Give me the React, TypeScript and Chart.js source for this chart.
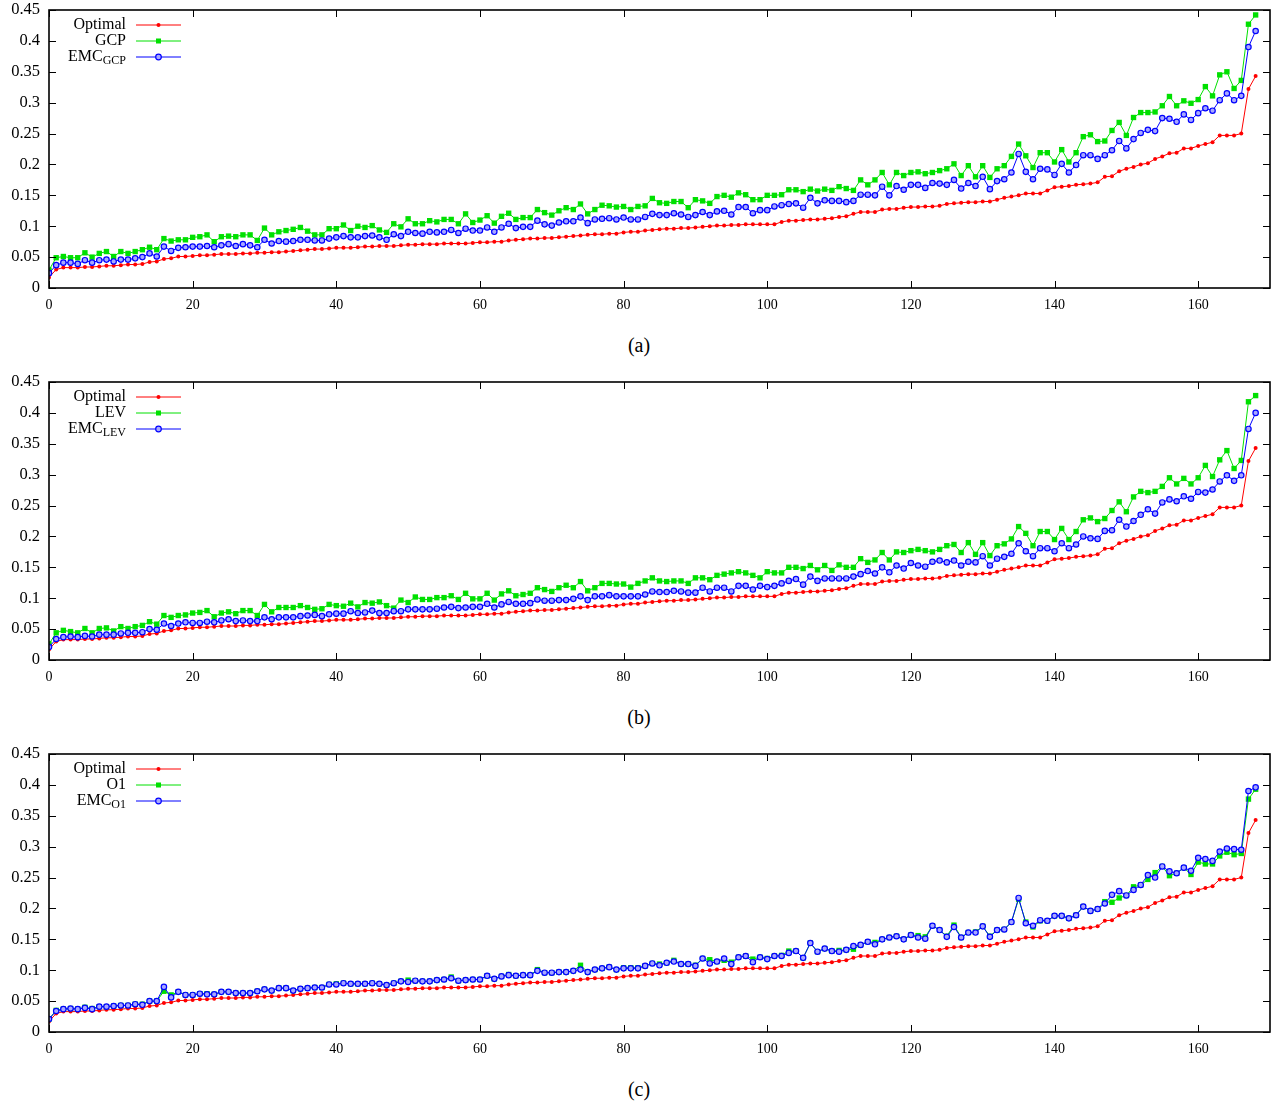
import React, { useEffect, useRef } from "react";
import { Chart, registerables } from "chart.js";

Chart.register(...registerables);

const FONT = "'Liberation Serif', 'Times New Roman', serif";

const X_TICKS = [0, 20, 40, 60, 80, 100, 120, 140, 160];
const Y_TICKS = [0, 0.05, 0.1, 0.15, 0.2, 0.25, 0.3, 0.35, 0.4, 0.45];
const Y_TICK_LABELS = ["0", "0.05", "0.1", "0.15", "0.2", "0.25", "0.3", "0.35", "0.4", "0.45"];
const CAPTIONS = ["(a)", "(b)", "(c)"];

const OPTIMAL = [
  0.017, 0.030, 0.033, 0.033, 0.033, 0.034, 0.034, 0.035, 0.036, 0.036,
  0.037, 0.038, 0.038, 0.039, 0.042, 0.043, 0.047, 0.048, 0.051, 0.051,
  0.052, 0.053, 0.053, 0.054, 0.055, 0.055, 0.055, 0.056, 0.056, 0.057,
  0.057, 0.058, 0.058, 0.059, 0.060, 0.061, 0.062, 0.063, 0.063, 0.064,
  0.065, 0.065, 0.065, 0.066, 0.067, 0.067, 0.068, 0.068, 0.068, 0.069,
  0.070, 0.070, 0.071, 0.071, 0.071, 0.072, 0.072, 0.072, 0.072, 0.073,
  0.074, 0.074, 0.075, 0.075, 0.077, 0.078, 0.079, 0.080, 0.080, 0.081,
  0.081, 0.082, 0.083, 0.084, 0.085, 0.086, 0.087, 0.087, 0.088, 0.088,
  0.090, 0.091, 0.091, 0.093, 0.094, 0.095, 0.096, 0.096, 0.097, 0.097,
  0.098, 0.099, 0.100, 0.101, 0.101, 0.102, 0.102, 0.103, 0.103, 0.103,
  0.103, 0.103, 0.107, 0.109, 0.109, 0.110, 0.111, 0.111, 0.112, 0.113,
  0.115, 0.116, 0.120, 0.123, 0.123, 0.123, 0.127, 0.128, 0.128, 0.130,
  0.131, 0.131, 0.132, 0.132, 0.133, 0.136, 0.137, 0.138, 0.139, 0.139,
  0.140, 0.140, 0.143, 0.146, 0.148, 0.150, 0.153, 0.153, 0.153, 0.158,
  0.163, 0.164, 0.165, 0.167, 0.168, 0.169, 0.171, 0.180, 0.181, 0.189,
  0.193, 0.196, 0.200, 0.202, 0.209, 0.213, 0.218, 0.219, 0.226, 0.226,
  0.230, 0.233, 0.236, 0.247, 0.247, 0.247, 0.250, 0.322, 0.343,
];

const GCP = [
  0.029, 0.049, 0.051, 0.049, 0.049, 0.057, 0.050, 0.056, 0.059, 0.051,
  0.059, 0.056, 0.059, 0.062, 0.066, 0.062, 0.080, 0.076, 0.078, 0.078,
  0.082, 0.083, 0.086, 0.075, 0.083, 0.084, 0.083, 0.086, 0.086, 0.077,
  0.097, 0.086, 0.091, 0.093, 0.095, 0.098, 0.092, 0.086, 0.086, 0.096,
  0.096, 0.102, 0.093, 0.100, 0.098, 0.101, 0.094, 0.090, 0.104, 0.099,
  0.112, 0.104, 0.104, 0.109, 0.107, 0.111, 0.111, 0.104, 0.120, 0.106,
  0.110, 0.117, 0.105, 0.116, 0.121, 0.111, 0.114, 0.114, 0.127, 0.122,
  0.118, 0.125, 0.130, 0.127, 0.136, 0.120, 0.127, 0.134, 0.133, 0.131,
  0.132, 0.127, 0.132, 0.133, 0.145, 0.138, 0.137, 0.140, 0.140, 0.130,
  0.143, 0.141, 0.137, 0.148, 0.150, 0.147, 0.154, 0.151, 0.143, 0.143,
  0.150, 0.150, 0.151, 0.159, 0.159, 0.156, 0.160, 0.157, 0.160, 0.158,
  0.164, 0.161, 0.158, 0.175, 0.167, 0.175, 0.187, 0.167, 0.187, 0.182,
  0.187, 0.188, 0.185, 0.187, 0.190, 0.193, 0.201, 0.182, 0.198, 0.180,
  0.198, 0.179, 0.193, 0.198, 0.213, 0.233, 0.214, 0.195, 0.219, 0.219,
  0.204, 0.224, 0.204, 0.219, 0.245, 0.248, 0.237, 0.238, 0.255, 0.268,
  0.247, 0.276, 0.284, 0.284, 0.285, 0.295, 0.310, 0.295, 0.303, 0.299,
  0.305, 0.326, 0.311, 0.345, 0.350, 0.323, 0.336, 0.427, 0.442,
];

const EMC_GCP = [
  0.024, 0.037, 0.041, 0.041, 0.039, 0.045, 0.041, 0.045, 0.046, 0.043,
  0.046, 0.046, 0.048, 0.050, 0.056, 0.051, 0.067, 0.060, 0.065, 0.066,
  0.067, 0.067, 0.068, 0.066, 0.069, 0.071, 0.068, 0.071, 0.069, 0.066,
  0.078, 0.072, 0.076, 0.075, 0.076, 0.078, 0.078, 0.077, 0.077, 0.080,
  0.082, 0.084, 0.082, 0.082, 0.084, 0.085, 0.082, 0.078, 0.087, 0.084,
  0.091, 0.089, 0.088, 0.091, 0.090, 0.091, 0.094, 0.089, 0.096, 0.093,
  0.093, 0.098, 0.091, 0.098, 0.104, 0.097, 0.099, 0.099, 0.109, 0.103,
  0.101, 0.106, 0.108, 0.108, 0.114, 0.105, 0.111, 0.112, 0.113, 0.111,
  0.114, 0.111, 0.111, 0.115, 0.120, 0.118, 0.118, 0.121, 0.119, 0.115,
  0.118, 0.123, 0.118, 0.124, 0.125, 0.119, 0.131, 0.131, 0.121, 0.126,
  0.126, 0.132, 0.134, 0.136, 0.137, 0.130, 0.146, 0.137, 0.142, 0.141,
  0.141, 0.139, 0.141, 0.151, 0.151, 0.150, 0.164, 0.150, 0.165, 0.159,
  0.167, 0.167, 0.162, 0.170, 0.169, 0.167, 0.175, 0.161, 0.170, 0.165,
  0.180, 0.160, 0.173, 0.176, 0.187, 0.217, 0.188, 0.176, 0.193, 0.192,
  0.183, 0.201, 0.187, 0.199, 0.215, 0.215, 0.209, 0.215, 0.223, 0.238,
  0.226, 0.241, 0.251, 0.256, 0.254, 0.275, 0.274, 0.269, 0.281, 0.272,
  0.283, 0.291, 0.287, 0.304, 0.315, 0.304, 0.311, 0.390, 0.416,
];

const LEV = [
  0.026, 0.044, 0.048, 0.046, 0.044, 0.051, 0.044, 0.051, 0.052, 0.047,
  0.054, 0.051, 0.054, 0.056, 0.062, 0.058, 0.072, 0.069, 0.072, 0.073,
  0.076, 0.077, 0.080, 0.070, 0.076, 0.078, 0.075, 0.080, 0.080, 0.072,
  0.090, 0.078, 0.085, 0.085, 0.085, 0.088, 0.085, 0.082, 0.083, 0.090,
  0.088, 0.087, 0.092, 0.086, 0.093, 0.092, 0.094, 0.088, 0.084, 0.097,
  0.093, 0.102, 0.098, 0.098, 0.101, 0.101, 0.104, 0.098, 0.108, 0.099,
  0.099, 0.108, 0.097, 0.107, 0.112, 0.104, 0.106, 0.108, 0.117, 0.114,
  0.111, 0.117, 0.121, 0.117, 0.127, 0.112, 0.117, 0.124, 0.124, 0.123,
  0.123, 0.118, 0.124, 0.128, 0.133, 0.128, 0.127, 0.128, 0.128, 0.124,
  0.133, 0.133, 0.130, 0.137, 0.139, 0.141, 0.143, 0.141, 0.137, 0.133,
  0.143, 0.141, 0.141, 0.150, 0.150, 0.148, 0.153, 0.146, 0.153, 0.145,
  0.154, 0.150, 0.150, 0.164, 0.158, 0.162, 0.174, 0.162, 0.175, 0.174,
  0.177, 0.179, 0.177, 0.175, 0.179, 0.185, 0.187, 0.174, 0.190, 0.171,
  0.190, 0.169, 0.185, 0.188, 0.196, 0.216, 0.205, 0.185, 0.208, 0.208,
  0.195, 0.213, 0.195, 0.208, 0.227, 0.230, 0.224, 0.229, 0.242, 0.256,
  0.240, 0.264, 0.273, 0.271, 0.273, 0.281, 0.295, 0.285, 0.294, 0.285,
  0.295, 0.315, 0.297, 0.324, 0.339, 0.310, 0.323, 0.418, 0.428,
];

const EMC_LEV = [
  0.021, 0.034, 0.037, 0.038, 0.037, 0.039, 0.038, 0.041, 0.041, 0.041,
  0.043, 0.044, 0.044, 0.045, 0.050, 0.049, 0.059, 0.055, 0.059, 0.061,
  0.060, 0.060, 0.062, 0.061, 0.064, 0.066, 0.063, 0.064, 0.063, 0.063,
  0.069, 0.066, 0.069, 0.069, 0.069, 0.071, 0.072, 0.073, 0.071, 0.074,
  0.075, 0.075, 0.079, 0.076, 0.077, 0.080, 0.076, 0.076, 0.079, 0.079,
  0.082, 0.082, 0.082, 0.082, 0.083, 0.085, 0.086, 0.084, 0.085, 0.086,
  0.086, 0.091, 0.085, 0.090, 0.094, 0.091, 0.091, 0.092, 0.098, 0.096,
  0.096, 0.097, 0.097, 0.099, 0.103, 0.097, 0.103, 0.103, 0.105, 0.103,
  0.103, 0.103, 0.103, 0.106, 0.111, 0.110, 0.110, 0.112, 0.111, 0.109,
  0.109, 0.117, 0.111, 0.117, 0.117, 0.111, 0.120, 0.120, 0.114, 0.120,
  0.118, 0.120, 0.124, 0.128, 0.131, 0.122, 0.135, 0.128, 0.132, 0.132,
  0.132, 0.132, 0.135, 0.139, 0.144, 0.140, 0.150, 0.142, 0.153, 0.148,
  0.157, 0.153, 0.151, 0.159, 0.161, 0.158, 0.161, 0.153, 0.159, 0.158,
  0.168, 0.153, 0.164, 0.167, 0.172, 0.189, 0.176, 0.168, 0.181, 0.181,
  0.176, 0.189, 0.181, 0.187, 0.200, 0.197, 0.196, 0.209, 0.210, 0.227,
  0.216, 0.225, 0.235, 0.244, 0.237, 0.255, 0.260, 0.257, 0.265, 0.261,
  0.272, 0.271, 0.276, 0.289, 0.299, 0.290, 0.299, 0.374, 0.400,
];

const O1 = [
  0.021, 0.035, 0.037, 0.038, 0.037, 0.040, 0.038, 0.041, 0.041, 0.042,
  0.043, 0.043, 0.045, 0.045, 0.050, 0.050, 0.066, 0.060, 0.065, 0.060,
  0.060, 0.062, 0.062, 0.061, 0.065, 0.065, 0.063, 0.063, 0.063, 0.066,
  0.069, 0.067, 0.071, 0.071, 0.067, 0.070, 0.071, 0.072, 0.072, 0.077,
  0.078, 0.079, 0.078, 0.078, 0.078, 0.079, 0.078, 0.076, 0.079, 0.082,
  0.084, 0.083, 0.082, 0.082, 0.084, 0.085, 0.089, 0.083, 0.084, 0.085,
  0.085, 0.091, 0.086, 0.090, 0.093, 0.091, 0.092, 0.092, 0.101, 0.096,
  0.096, 0.097, 0.097, 0.099, 0.108, 0.097, 0.101, 0.103, 0.105, 0.101,
  0.104, 0.104, 0.104, 0.107, 0.111, 0.110, 0.112, 0.116, 0.110, 0.110,
  0.108, 0.119, 0.117, 0.114, 0.116, 0.113, 0.121, 0.123, 0.118, 0.121,
  0.119, 0.123, 0.124, 0.131, 0.131, 0.120, 0.144, 0.130, 0.135, 0.131,
  0.132, 0.133, 0.134, 0.141, 0.146, 0.145, 0.150, 0.153, 0.155, 0.150,
  0.157, 0.156, 0.154, 0.172, 0.165, 0.155, 0.173, 0.153, 0.161, 0.162,
  0.171, 0.155, 0.165, 0.166, 0.178, 0.215, 0.178, 0.170, 0.180, 0.180,
  0.188, 0.188, 0.184, 0.189, 0.203, 0.196, 0.199, 0.211, 0.210, 0.217,
  0.221, 0.235, 0.238, 0.247, 0.258, 0.268, 0.253, 0.257, 0.266, 0.255,
  0.275, 0.272, 0.272, 0.285, 0.291, 0.287, 0.289, 0.377, 0.393,
];

const EMC_O1 = [
  0.021, 0.034, 0.037, 0.038, 0.037, 0.039, 0.037, 0.041, 0.041, 0.042,
  0.043, 0.043, 0.045, 0.044, 0.050, 0.050, 0.073, 0.056, 0.065, 0.060,
  0.060, 0.062, 0.061, 0.061, 0.065, 0.065, 0.063, 0.063, 0.063, 0.066,
  0.069, 0.067, 0.071, 0.071, 0.067, 0.070, 0.071, 0.072, 0.072, 0.077,
  0.077, 0.079, 0.078, 0.078, 0.078, 0.079, 0.078, 0.076, 0.079, 0.082,
  0.081, 0.083, 0.082, 0.082, 0.084, 0.085, 0.087, 0.083, 0.084, 0.085,
  0.085, 0.091, 0.086, 0.090, 0.092, 0.091, 0.092, 0.092, 0.099, 0.096,
  0.096, 0.097, 0.097, 0.099, 0.101, 0.097, 0.101, 0.103, 0.105, 0.101,
  0.103, 0.103, 0.103, 0.107, 0.111, 0.108, 0.112, 0.114, 0.110, 0.110,
  0.107, 0.119, 0.111, 0.114, 0.119, 0.110, 0.121, 0.123, 0.113, 0.121,
  0.118, 0.123, 0.123, 0.128, 0.131, 0.120, 0.144, 0.130, 0.135, 0.131,
  0.130, 0.133, 0.139, 0.141, 0.146, 0.142, 0.150, 0.153, 0.155, 0.150,
  0.157, 0.153, 0.151, 0.172, 0.165, 0.154, 0.170, 0.153, 0.161, 0.161,
  0.171, 0.154, 0.165, 0.166, 0.178, 0.217, 0.176, 0.172, 0.181, 0.180,
  0.188, 0.188, 0.184, 0.189, 0.203, 0.196, 0.199, 0.208, 0.222, 0.228,
  0.221, 0.230, 0.238, 0.254, 0.250, 0.268, 0.260, 0.257, 0.266, 0.261,
  0.282, 0.280, 0.277, 0.292, 0.297, 0.296, 0.295, 0.390, 0.396,
];

const LEGEND_A = [["Optimal", ""], ["GCP", ""], ["EMC", "GCP"]];
const LEGEND_B = [["Optimal", ""], ["LEV", ""], ["EMC", "LEV"]];
const LEGEND_C = [["Optimal", ""], ["O1", ""], ["EMC", "O1"]];

const RED = "#ff0000";
const GREEN = "#00e000";
const BLUE = "#0000ff";
const BLUE_FILL = "#a8a8ff";

type Panel = { caption: string; legend: string[][]; series: number[][] };

const PANELS: Panel[] = [
  { caption: CAPTIONS[0], legend: LEGEND_A, series: [OPTIMAL, GCP, EMC_GCP] },
  { caption: CAPTIONS[1], legend: LEGEND_B, series: [OPTIMAL, LEV, EMC_LEV] },
  { caption: CAPTIONS[2], legend: LEGEND_C, series: [OPTIMAL, O1, EMC_O1] },
];

function drawMarker(ctx: CanvasRenderingContext2D, kind: number, x: number, y: number) {
  ctx.save();
  if (kind === 0) {
    ctx.fillStyle = RED;
    ctx.beginPath();
    ctx.arc(x, y, 2, 0, Math.PI * 2);
    ctx.fill();
  } else if (kind === 1) {
    ctx.fillStyle = GREEN;
    ctx.fillRect(x - 2.5, y - 2.5, 5, 5);
  } else {
    ctx.fillStyle = BLUE_FILL;
    ctx.strokeStyle = BLUE;
    ctx.lineWidth = 1.2;
    ctx.beginPath();
    ctx.arc(x, y, 2.8, 0, Math.PI * 2);
    ctx.fill();
    ctx.stroke();
  }
  ctx.restore();
}

function makeFramePlugin(legend: string[][]) {
  return {
    id: "frame",
    afterDraw(chart: any) {
      const { ctx, chartArea: ca, scales } = chart;
      const xs = scales.x;
      const ys = scales.y;
      const TL = 7;
      ctx.save();
      ctx.strokeStyle = "#000";
      ctx.lineWidth = 1;
      ctx.beginPath();
      X_TICKS.forEach((v) => {
        const px = Math.round(xs.getPixelForValue(v)) + 0.5;
        ctx.moveTo(px, ca.bottom);
        ctx.lineTo(px, ca.bottom - TL);
        ctx.moveTo(px, ca.top);
        ctx.lineTo(px, ca.top + TL);
      });
      Y_TICKS.forEach((v) => {
        const py = Math.round(ys.getPixelForValue(v)) + 0.5;
        ctx.moveTo(ca.left, py);
        ctx.lineTo(ca.left + TL, py);
        ctx.moveTo(ca.right, py);
        ctx.lineTo(ca.right - TL, py);
      });
      ctx.stroke();
      ctx.lineWidth = 1.6;
      ctx.strokeRect(ca.left, ca.top, ca.right - ca.left, ca.bottom - ca.top);

      // legend
      const colors = [RED, GREEN, BLUE];
      const textRight = ca.left + 77;
      const lineL = ca.left + 87;
      const lineR = ca.left + 132;
      legend.forEach((entry, i) => {
        const y = ca.top + 14.5 + 16 * i;
        const [main, sub] = entry;
        ctx.fillStyle = "#000";
        ctx.textBaseline = "middle";
        ctx.textAlign = "right";
        let right = textRight;
        if (sub) {
          ctx.font = `12px ${FONT}`;
          const w = ctx.measureText(sub).width;
          ctx.fillText(sub, right, y + 4);
          right -= w;
        }
        ctx.font = `16px ${FONT}`;
        ctx.fillText(main, right, y);
        ctx.strokeStyle = colors[i];
        ctx.lineWidth = 1;
        ctx.beginPath();
        ctx.moveTo(lineL, y + 0.5);
        ctx.lineTo(lineR, y + 0.5);
        ctx.stroke();
        drawMarker(ctx, i, (lineL + lineR) / 2, y + 0.5);
      });
      ctx.restore();
    },
  };
}

function PanelChart({ top, panel }: { top: number; panel: Panel }) {
  const ref = useRef<HTMLCanvasElement | null>(null);
  useEffect(() => {
    if (!ref.current) return;
    const toPts = (arr: number[]) => arr.map((v, i) => ({ x: i, y: v }));
    const [opt, alg, emc] = panel.series;
    const chart = new Chart(ref.current, {
      type: "line",
      data: {
        datasets: [
          {
            data: toPts(opt),
            borderColor: RED,
            backgroundColor: RED,
            borderWidth: 1,
            pointStyle: "circle",
            pointRadius: 2,
            pointBorderWidth: 0,
            pointBackgroundColor: RED,
            order: 3,
          },
          {
            data: toPts(alg),
            borderColor: GREEN,
            backgroundColor: GREEN,
            borderWidth: 1,
            pointStyle: "rect",
            pointRadius: 3.8,
            pointBorderWidth: 0,
            pointBackgroundColor: GREEN,
            order: 2,
          },
          {
            data: toPts(emc),
            borderColor: BLUE,
            backgroundColor: BLUE_FILL,
            borderWidth: 1,
            pointStyle: "circle",
            pointRadius: 2.7,
            pointBorderWidth: 1.2,
            pointBorderColor: BLUE,
            pointBackgroundColor: BLUE_FILL,
            order: 1,
          },
        ],
      },
      options: {
        animation: false,
        responsive: false,
        devicePixelRatio: 1,
        layout: { padding: { top: 10, right: 8, left: 0, bottom: 0 } },
        plugins: { legend: { display: false }, tooltip: { enabled: false } },
        elements: { line: { tension: 0 } },
        scales: {
          x: {
            type: "linear",
            min: 0,
            max: 170,
            grid: { display: false, drawTicks: false },
            border: { display: false },
            afterBuildTicks: (s: any) => {
              s.ticks = X_TICKS.map((v) => ({ value: v }));
            },
            afterFit: (s: any) => {
              s.height = 42;
              s.paddingLeft = 0;
              s.paddingRight = 0;
            },
            ticks: {
              autoSkip: false,
              maxRotation: 0,
              padding: 9,
              color: "#000",
              font: { family: FONT, size: 14 },
              callback: (v: any) => String(v),
            },
          },
          y: {
            type: "linear",
            min: 0,
            max: 0.45,
            grid: { display: false, drawTicks: false },
            border: { display: false },
            afterBuildTicks: (s: any) => {
              s.ticks = Y_TICKS.map((v) => ({ value: v }));
            },
            afterFit: (s: any) => {
              s.width = 49;
              s.paddingTop = 0;
              s.paddingBottom = 0;
            },
            ticks: {
              autoSkip: false,
              padding: 9,
              color: "#000",
              font: { family: FONT, size: 16.5 },
              callback: (_v: any, i: number) => Y_TICK_LABELS[i],
            },
          },
        },
      } as any,
      plugins: [makeFramePlugin(panel.legend)],
    });
    return () => chart.destroy();
  }, [panel]);

  return (
    <>
      <canvas
        ref={ref}
        width={1278}
        height={330}
        style={{ position: "absolute", left: 0, top, width: 1278, height: 330 }}
      />
      <div
        style={{
          position: "absolute",
          left: 0,
          top: top + 333,
          width: 1278,
          height: 24,
          lineHeight: "24px",
          textAlign: "center",
          fontFamily: FONT,
          fontSize: 20,
          color: "#000",
        }}
      >
        {panel.caption}
      </div>
    </>
  );
}

export default function App() {
  return (
    <div
      style={{
        position: "absolute",
        left: 0,
        top: 0,
        width: 1278,
        height: 1103,
        background: "#fff",
        overflow: "hidden",
      }}
    >
      {PANELS.map((p, i) => (
        <PanelChart key={i} top={i * 372} panel={p} />
      ))}
    </div>
  );
}
